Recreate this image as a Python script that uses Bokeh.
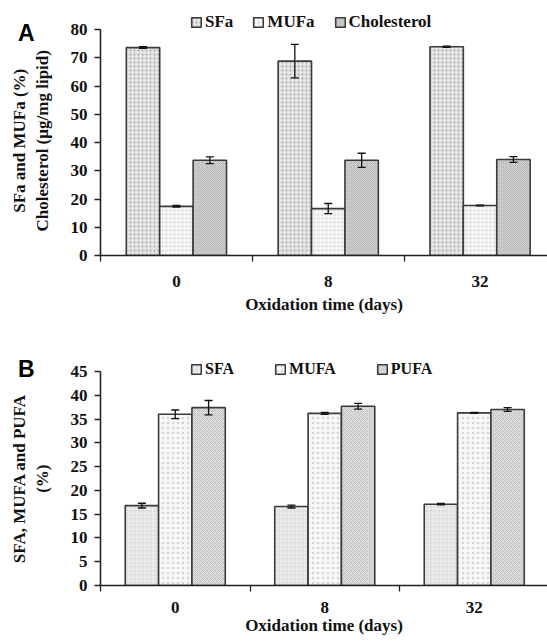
import numpy as np
from bokeh.plotting import figure
from bokeh.models import (ColumnDataSource, Whisker, TeeHead, FixedTicker, Legend,
                          LegendItem, Range1d, Div)
from bokeh.layouts import column
from bokeh.embed import file_html
from bokeh.resources import INLINE

# ---------------- data ----------------
days = ["0", "8", "32"]

# Panel A
sfa_a = [73.6, 68.8, 73.9]
sfa_a_err = [0.3, 5.9, 0.2]
mufa_a = [17.4, 16.6, 17.7]
mufa_a_err = [0.3, 1.8, 0.1]
chol_a = [33.7, 33.7, 34.0]
chol_a_err = [1.2, 2.5, 1.0]

# Panel B
sfa_b = [16.8, 16.6, 17.1]
sfa_b_err = [0.5, 0.3, 0.15]
mufa_b = [36.0, 36.2, 36.3]
mufa_b_err = [0.9, 0.2, 0.1]
pufa_b = [37.4, 37.7, 37.0]
pufa_b_err = [1.5, 0.6, 0.4]

SERIF = "Liberation Serif"
SANS = "Liberation Sans"
W = 547
NB = "\u00a0"


def make_panel(height, border_top, border_bottom, border_left, xmax, ymax, ytop, ystep,
               series, ytitle, legend_loc, legend_spacing, legend_font, bar_w,
               lab_standoff, title_standoff, ytitle_standoff):
    p = figure(width=W, height=height, output_backend="svg", toolbar_location=None,
               x_range=Range1d(0, xmax), y_range=Range1d(0, ytop),
               min_border_top=border_top, min_border_bottom=border_bottom,
               min_border_left=border_left, min_border_right=0)
    p.outline_line_color = None
    p.grid.visible = False

    idx = np.arange(len(days)) + 0.5
    items = []
    for k, (name, vals, errs, fill, hatch, hcolor, hscale) in enumerate(series):
        xs = idx + (k - 1) * bar_w
        vals = np.array(vals)
        errs = np.array(errs)
        src = ColumnDataSource(dict(x=xs, top=vals, lo=vals - errs, hi=vals + errs))
        r = p.vbar(x="x", top="top", width=bar_w, source=src, fill_color=fill,
                   line_color="#3a3a3a", line_width=1.6,
                   hatch_pattern=hatch, hatch_color=hcolor, hatch_scale=hscale,
                   hatch_weight=1.0, hatch_alpha=0.8)
        w = Whisker(base="x", lower="lo", upper="hi", source=src, level="overlay",
                    line_color="#111111", line_width=1.3,
                    upper_head=TeeHead(size=8, line_color="#111111", line_width=1.3),
                    lower_head=TeeHead(size=8, line_color="#111111", line_width=1.3))
        p.add_layout(w)
        items.append(LegendItem(label=name, renderers=[r]))

    legend = Legend(items=items, orientation="horizontal", location=legend_loc,
                    padding=0, margin=0, spacing=legend_spacing, label_standoff=3,
                    glyph_width=12, glyph_height=12, label_height=20,
                    label_text_font=SERIF, label_text_font_style="bold",
                    label_text_font_size=legend_font, label_text_color="#111111",
                    border_line_color=None, background_fill_alpha=0)
    p.add_layout(legend)

    # x axis
    xa = p.xaxis[0]
    xa.ticker = FixedTicker(ticks=list(idx), minor_ticks=[0, 1, 2, 3])
    xa.major_label_overrides = {float(v): d for v, d in zip(idx, days)}
    xa.major_tick_line_color = None
    xa.major_tick_out = 0
    xa.major_tick_in = 0
    xa.minor_tick_out = 6
    xa.minor_tick_in = 0
    xa.minor_tick_line_color = "#222222"
    xa.minor_tick_line_width = 1.3
    xa.major_label_standoff = lab_standoff
    xa.major_label_text_font = SERIF
    xa.major_label_text_font_style = "bold"
    xa.major_label_text_font_size = "17px"
    xa.major_label_text_color = "#111111"
    xa.axis_label = "Oxidation time (days)"
    xa.axis_label_text_font = SERIF
    xa.axis_label_text_font_style = "bold"
    xa.axis_label_text_font_size = "17px"
    xa.axis_label_text_color = "#111111"
    xa.axis_label_standoff = title_standoff
    xa.axis_line_color = "#222222"
    xa.axis_line_width = 1.6

    # y axis
    ya = p.yaxis[0]
    ya.bounds = (0, ymax)
    ya.ticker = FixedTicker(ticks=list(np.arange(0, ymax + 0.001, ystep)), minor_ticks=[])
    ya.major_tick_out = 6
    ya.major_tick_in = 0
    ya.major_tick_line_color = "#222222"
    ya.major_tick_line_width = 1.3
    ya.minor_tick_line_color = None
    ya.major_label_standoff = 7
    ya.major_label_text_font = SERIF
    ya.major_label_text_font_style = "bold"
    ya.major_label_text_font_size = "17px"
    ya.major_label_text_color = "#111111"
    ya.axis_label = ytitle
    ya.axis_label_text_font = SERIF
    ya.axis_label_text_font_style = "bold"
    ya.axis_label_text_font_size = "17px"
    ya.axis_label_text_color = "#111111"
    ya.axis_label_standoff = ytitle_standoff
    ya.axis_line_color = "#222222"
    ya.axis_line_width = 1.6
    return p


series_a = [
    ("SFa", sfa_a, sfa_a_err, "#e4e4e4", "dot", "#9a9a9a", 4),
    ("MUFa", mufa_a, mufa_a_err, "#f6f6f6", "dot", "#c8c8c8", 4),
    ("Cholesterol", chol_a, chol_a_err, "#cfcfcf", "diagonal_cross", "#b0b0b0", 4),
]
series_b = [
    ("SFA", sfa_b, sfa_b_err, "#eeeeee", "cross", "#d6d6d6", 4),
    ("MUFA", mufa_b, mufa_b_err, "#f7f7f7", "dot", "#cccccc", 5),
    ("PUFA", pufa_b, pufa_b_err, "#dedede", "diagonal_cross", "#bcbcbc", 4),
]

A_H = 320
pa = make_panel(height=A_H, border_top=0, border_bottom=A_H - 255, border_left=98,
                xmax=449 / 152.5, ymax=80, ytop=80 * 255 / 226, ystep=10,
                series=series_a,
                ytitle="SFa and MUFa (%)" + NB * 6 + "\nCholesterol (\u00b5g/mg lipid)" + NB * 6,
                legend_loc=(90, 223), legend_spacing=19, legend_font="17px", bar_w=0.22,
                lab_standoff=14, title_standoff=5, ytitle_standoff=16)

B_H = 641 - A_H
pb = make_panel(height=B_H, border_top=350 - A_H, border_bottom=641 - 585, border_left=100,
                xmax=447 / 149.5, ymax=45, ytop=45 + 21 / (214 / 45), ystep=5,
                series=series_b,
                ytitle="SFA, MUFA and PUFA" + NB * 5 + "\n(%)" + NB * 5,
                legend_loc=(90, 206), legend_spacing=40, legend_font="16px", bar_w=0.223,
                lab_standoff=10, title_standoff=0, ytitle_standoff=16)


def letter(txt, top):
    return Div(text=txt, width=30, height=30,
               styles={"position": "absolute", "left": "13px", "top": f"{top}px",
                       "font-family": SANS, "font-weight": "bold", "font-size": "23px",
                       "line-height": "1", "color": "#000000"})


layout = column(pa, pb, letter("A", 17), letter("B", 353), spacing=0)
open("out.html", "w").write(file_html(layout, INLINE))
